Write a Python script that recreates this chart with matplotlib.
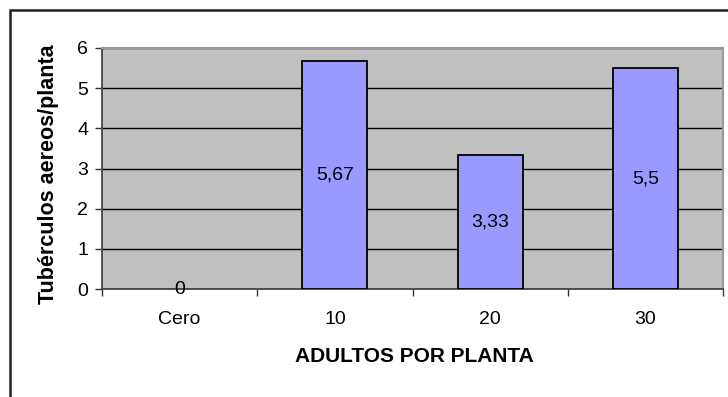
import matplotlib
matplotlib.use("Agg")
import matplotlib.pyplot as plt
from matplotlib.patches import Rectangle

plt.rcParams['font.family'] = ['Liberation Sans', 'DejaVu Sans']

categories = ["Cero", "10", "20", "30"]
values = [0, 5.67, 3.33, 5.5]
value_labels = ["0", "5,67", "3,33", "5,5"]
y_ticks = [0, 1, 2, 3, 4, 5, 6]

W, H = 728, 397
fig = plt.figure(figsize=(W / 100, H / 100), dpi=100)

# outer chart frame
fig.patches.append(Rectangle((9.5 / W, -0.02), 1.05, 1 - 9.5 / H + 0.02,
                             transform=fig.transFigure, fill=False,
                             edgecolor="#222222", linewidth=1.8))

ax = fig.add_axes([102 / W, 1 - 289 / H, 621 / W, 241 / H])
ax.set_facecolor("#c0c0c0")

x = range(len(categories))
# zero-height bars get no outline
edge_w = [1.3 if v > 0 else 0 for v in values]
ax.bar(x, values, width=0.42, color="#9999ff", edgecolor="black",
       linewidth=edge_w, zorder=3)

for i, (v, lab) in enumerate(zip(values, value_labels)):
    ax.text(i, v / 2, lab, ha="center", va="center", fontsize=14,
            color="black", zorder=4)

ax.set_xlim(-0.5, len(categories) - 0.5)
ax.set_ylim(0, 6)
ax.set_yticks(y_ticks)
ax.set_yticklabels([str(t) for t in y_ticks], fontsize=14)
ax.yaxis.grid(True, color="black", linewidth=1.0, zorder=1)
ax.set_axisbelow(True)

# categories centred between boundary ticks
ax.set_xticks([i - 0.5 for i in range(len(categories) + 1)])
ax.set_xticklabels([])
ax.set_xticks(list(x), minor=True)
ax.set_xticklabels(categories, minor=True, fontsize=14)
ax.tick_params(axis="x", which="minor", length=0, pad=16)
ax.tick_params(axis="x", which="major", length=5, width=1, color="#333333")
ax.tick_params(axis="y", length=5, width=1, color="#333333", pad=5)

for side in ["top", "right"]:
    ax.spines[side].set_color("#999999")
    ax.spines[side].set_linewidth(1.5)
for side in ["left", "bottom"]:
    ax.spines[side].set_color("#444444")
    ax.spines[side].set_linewidth(1.3)

fig.text(414 / W, 1 - 357 / H, "ADULTOS POR PLANTA", ha="center",
         va="center", fontsize=15, fontweight="bold")
fig.text(49 / W, 1 - 174 / H, "Tubérculos aereos/planta", ha="center",
         va="center", rotation=90, fontsize=15.5, fontweight="bold")

fig.savefig("out.png", dpi=100)
